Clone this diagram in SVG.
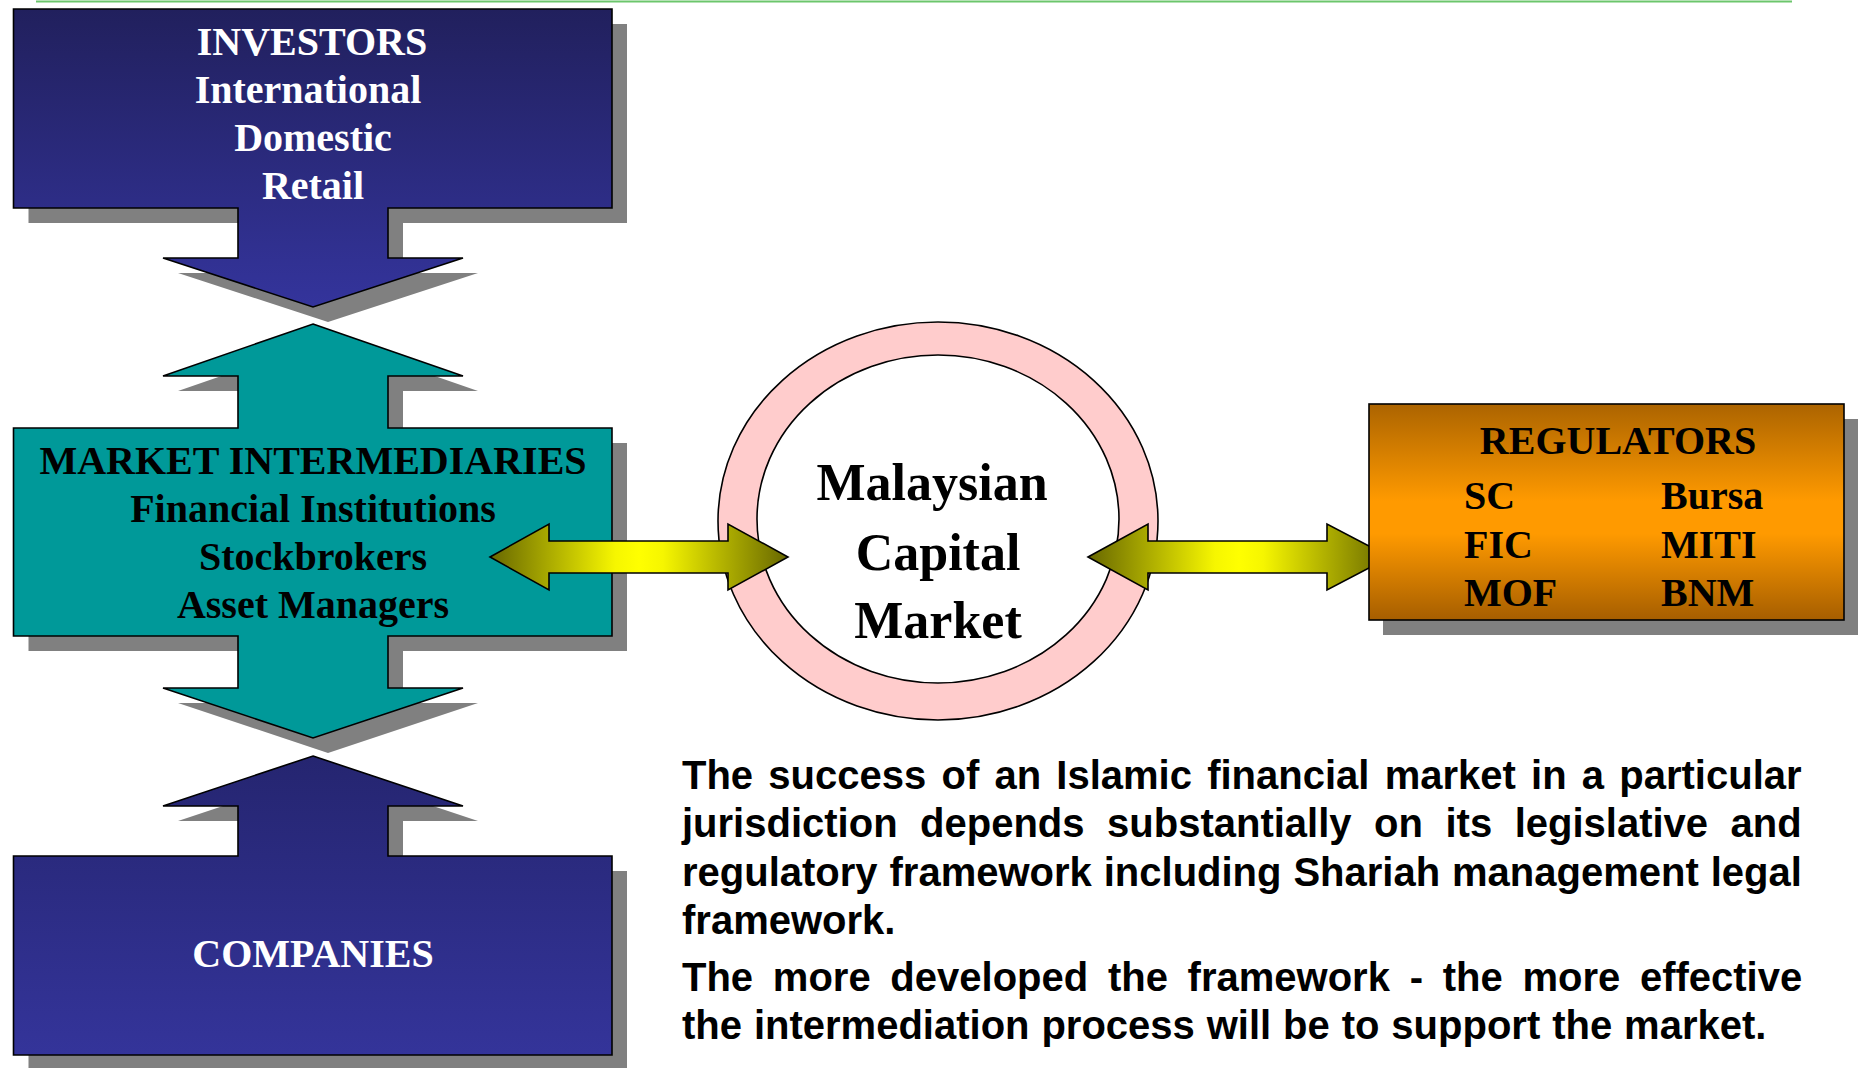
<svg xmlns="http://www.w3.org/2000/svg" width="1863" height="1068" viewBox="0 0 1863 1068">
<style>
.shape{stroke:#000;stroke-width:1.6;stroke-linejoin:miter}
.shadow{fill:#808080}
.tb{font-family:"Liberation Serif","Times New Roman",serif;font-weight:bold;font-size:40px}
.w{fill:#fff}
.k{fill:#000}
.mid{text-anchor:middle}
.para{font-family:"Liberation Sans",Arial,sans-serif;font-weight:bold;font-size:40px;fill:#000;font-kerning:none}
</style>
<defs>
<linearGradient id="blueTop" x1="0" y1="0" x2="0" y2="1">
<stop offset="0" stop-color="#21205D"/>
<stop offset="1" stop-color="#34349C"/>
</linearGradient>
<linearGradient id="blueBot" x1="0" y1="0" x2="0" y2="1">
<stop offset="0" stop-color="#252570"/>
<stop offset="1" stop-color="#34349A"/>
</linearGradient>
<linearGradient id="orange" x1="0" y1="0" x2="0" y2="1">
<stop offset="0" stop-color="#AC6400"/>
<stop offset="0.45" stop-color="#FF9A00"/>
<stop offset="0.6" stop-color="#FF9A00"/>
<stop offset="1" stop-color="#A65E00"/>
</linearGradient>
<linearGradient id="yel" x1="0" y1="0" x2="1" y2="0">
<stop offset="0" stop-color="#676700"/>
<stop offset="0.42" stop-color="#F6F600"/>
<stop offset="0.5" stop-color="#FFFF00"/>
<stop offset="0.58" stop-color="#F6F600"/>
<stop offset="1" stop-color="#676700"/>
</linearGradient>
</defs>

<rect width="1863" height="1068" fill="#fff"/>
<line x1="36" y1="1.5" x2="1792" y2="1.5" stroke="#6CC66C" stroke-width="2"/>

<g id="investors">
<polygon class="shadow" transform="translate(15,15)" points="13.5,9 612,9 612,208 388,208 388,258 463,258 313,307 163,258 238,258 238,208 13.5,208"/>
<polygon class="shape" fill="url(#blueTop)" points="13.5,9 612,9 612,208 388,208 388,258 463,258 313,307 163,258 238,258 238,208 13.5,208"/>
</g>

<g id="intermediaries">
<polygon class="shadow" transform="translate(15,15)" points="313,324 463,376 388,376 388,428 612,428 612,636 388,636 388,688 463,688 313,738 163,688 238,688 238,636 13.5,636 13.5,428 238,428 238,376 163,376"/>
<polygon class="shape" fill="#009999" points="313,324 463,376 388,376 388,428 612,428 612,636 388,636 388,688 463,688 313,738 163,688 238,688 238,636 13.5,636 13.5,428 238,428 238,376 163,376"/>
</g>

<g id="companies">
<polygon class="shadow" transform="translate(15,15)" points="313,756 463,806 388,806 388,856 612,856 612,1055 13.5,1055 13.5,856 238,856 238,806 163,806"/>
<polygon class="shape" fill="url(#blueBot)" points="313,756 463,806 388,806 388,856 612,856 612,1055 13.5,1055 13.5,856 238,856 238,806 163,806"/>
</g>

<g id="market">
<ellipse cx="938" cy="521" rx="220" ry="199" fill="#FFCCCC" stroke="#000" stroke-width="1.6"/>
<ellipse cx="938" cy="519" rx="181" ry="164" fill="#fff" stroke="#000" stroke-width="1.6"/>
</g>

<g id="connectors">
<polygon class="shape" fill="url(#yel)" points="490,557 549,524 549,541 728,541 728,524 788,557 728,590 728,573 549,573 549,590"/>
<polygon class="shape" fill="url(#yel)" points="1088,557 1148,524 1148,541 1327,541 1327,524 1390,557 1327,590 1327,573 1148,573 1148,590"/>
</g>

<g id="regulators">
<rect x="1383" y="419" width="475" height="216" class="shadow"/>
<rect x="1369" y="404" width="475" height="216" class="shape" fill="url(#orange)"/>
<text class="tb k mid" x="1618" y="454">REGULATORS</text>
<text class="tb k" x="1464" y="509">SC</text>
<text class="tb k" x="1661" y="509">Bursa</text>
<text class="tb k" x="1464" y="558">FIC</text>
<text class="tb k" x="1661" y="558">MITI</text>
<text class="tb k" x="1464" y="606">MOF</text>
<text class="tb k" x="1661" y="606">BNM</text>
</g>

<g id="investors-text">
<text class="tb w mid" x="312" y="55">INVESTORS</text>
<text class="tb w mid" x="308" y="103">International</text>
<text class="tb w mid" x="313" y="151">Domestic</text>
<text class="tb w mid" x="313" y="199">Retail</text>
</g>

<g id="intermediaries-text">
<text class="tb k mid" x="313" y="474">MARKET INTERMEDIARIES</text>
<text class="tb k mid" x="313" y="522">Financial Institutions</text>
<text class="tb k mid" x="313" y="570">Stockbrokers</text>
<text class="tb k mid" x="313" y="618">Asset Managers</text>
</g>

<g id="companies-text">
<text class="tb w mid" x="313" y="967">COMPANIES</text>
</g>

<g id="market-text">
<text class="tb k mid" x="932" y="500" style="font-size:52px">Malaysian</text>
<text class="tb k mid" x="938" y="570" style="font-size:52px">Capital</text>
<text class="tb k mid" x="938" y="638" style="font-size:52px">Market</text>
</g>

<g id="paragraph">
<text class="para" x="682" y="789" word-spacing="4.1">The success of an Islamic financial market in a particular</text>
<text class="para" x="682" y="837" word-spacing="11.4">jurisdiction depends substantially on its legislative and</text>
<text class="para" x="682" y="886" word-spacing="0.8">regulatory framework including Shariah management legal</text>
<text class="para" x="682" y="934">framework.</text>
<text class="para" x="682" y="991" word-spacing="8.6">The more developed the framework - the more effective</text>
<text class="para" x="682" y="1039" word-spacing="0.8">the intermediation process will be to support the market.</text>
</g>
</svg>
